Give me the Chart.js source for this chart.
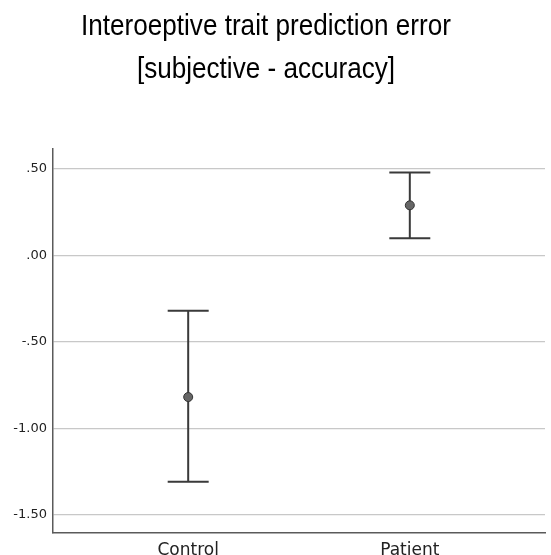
<!DOCTYPE html>
<html>
<head>
<meta charset="utf-8">
<script src="https://cdn.jsdelivr.net/npm/chart.js@4.4.1/dist/chart.umd.min.js"></script>
<style>
  html, body { margin: 0; padding: 0; background: #fff; }
  #wrap { width: 551px; height: 555px; }
</style>
</head>
<body>
<div id="wrap"><canvas id="errChart"></canvas></div>
<script>
// values
var categories = ['Control', 'Patient'];
var means = [-0.82, 0.29];
var lower = [-1.31, 0.10];
var upper = [-0.32, 0.48];
var yTicks = [0.5, 0, -0.5, -1, -1.5];
var titleLines = ['Interoeptive trait prediction error', '[subjective - accuracy]'];

function fmt(v) {
  // SPSS style: .50, -.50, -1.00
  var s = Math.abs(v).toFixed(2);
  if (s.charAt(0) === '0') s = s.slice(1);
  return (v < 0 ? '-' : '') + s;
}

var points = categories.map(function (c, i) {
  return { x: i + 1, y: means[i] };
});

// whiskers + caps, drawn under the points
var errorBars = {
  id: 'errorBars',
  beforeDatasetsDraw: function (chart) {
    var ctx = chart.ctx;
    var xs = chart.scales.x, ys = chart.scales.y;
    ctx.save();
    ctx.strokeStyle = '#3a3a3a';
    ctx.lineWidth = 2;
    categories.forEach(function (c, i) {
      var x = xs.getPixelForValue(i + 1);
      var yl = ys.getPixelForValue(lower[i]);
      var yu = ys.getPixelForValue(upper[i]);
      ctx.beginPath();
      ctx.moveTo(x, yu); ctx.lineTo(x, yl);
      ctx.moveTo(x - 20.5, yu); ctx.lineTo(x + 20.5, yu);
      ctx.moveTo(x - 20.5, yl); ctx.lineTo(x + 20.5, yl);
      ctx.stroke();
    });
    ctx.restore();
  }
};

// narrow two-line title (no condensed font installed, so squeeze it)
var narrowTitle = {
  id: 'narrowTitle',
  afterDraw: function (chart) {
    var ctx = chart.ctx;
    ctx.save();
    ctx.fillStyle = '#000';
    ctx.font = "30px 'Liberation Sans', Arial, sans-serif";
    ctx.textAlign = 'center';
    ctx.textBaseline = 'alphabetic';
    ctx.translate(266, 0);
    ctx.scale(0.87, 1);
    ctx.fillText(titleLines[0], 0, 35);
    ctx.fillText(titleLines[1], 0, 78);
    ctx.restore();
  }
};

var ctx = document.getElementById('errChart').getContext('2d');
new Chart(ctx, {
  type: 'scatter',
  data: {
    datasets: [{
      label: 'mean',
      data: points,
      pointRadius: 4.5,
      pointHoverRadius: 4.5,
      pointBackgroundColor: '#666666',
      pointBorderColor: '#333333',
      pointBorderWidth: 1
    }]
  },
  options: {
    responsive: true,
    maintainAspectRatio: false,
    animation: false,
    layout: { padding: { left: 0, right: 6, top: 149, bottom: 0 } },
    plugins: {
      legend: { display: false },
      tooltip: { enabled: false },
      title: { display: false }
    },
    scales: {
      x: {
        type: 'linear',
        min: 0.39,
        max: 2.61,
        afterBuildTicks: function (axis) {
          axis.ticks = categories.map(function (c, i) { return { value: i + 1 }; });
        },
        afterFit: function (axis) { axis.height = 22; },
        grid: { display: false, drawTicks: false },
        border: { display: true, color: '#5a5a5a', width: 1.5 },
        ticks: {
          padding: 7,
          color: '#222',
          font: { family: "'DejaVu Sans', sans-serif", size: 17 },
          callback: function (v) { return categories[v - 1]; }
        }
      },
      y: {
        min: -1.607,
        max: 0.616,
        afterBuildTicks: function (axis) {
          axis.ticks = yTicks.map(function (v) { return { value: v }; });
        },
        afterFit: function (axis) { axis.width = 53; },
        grid: { color: '#c8c8c8', lineWidth: 1.2, drawTicks: false },
        border: { display: true, color: '#5a5a5a', width: 1.5 },
        ticks: {
          padding: 6,
          color: '#222',
          font: { family: "'DejaVu Sans', sans-serif", size: 13 },
          callback: function (v) { return fmt(v); }
        }
      }
    }
  },
  plugins: [errorBars, narrowTitle]
});
</script>
</body>
</html>
